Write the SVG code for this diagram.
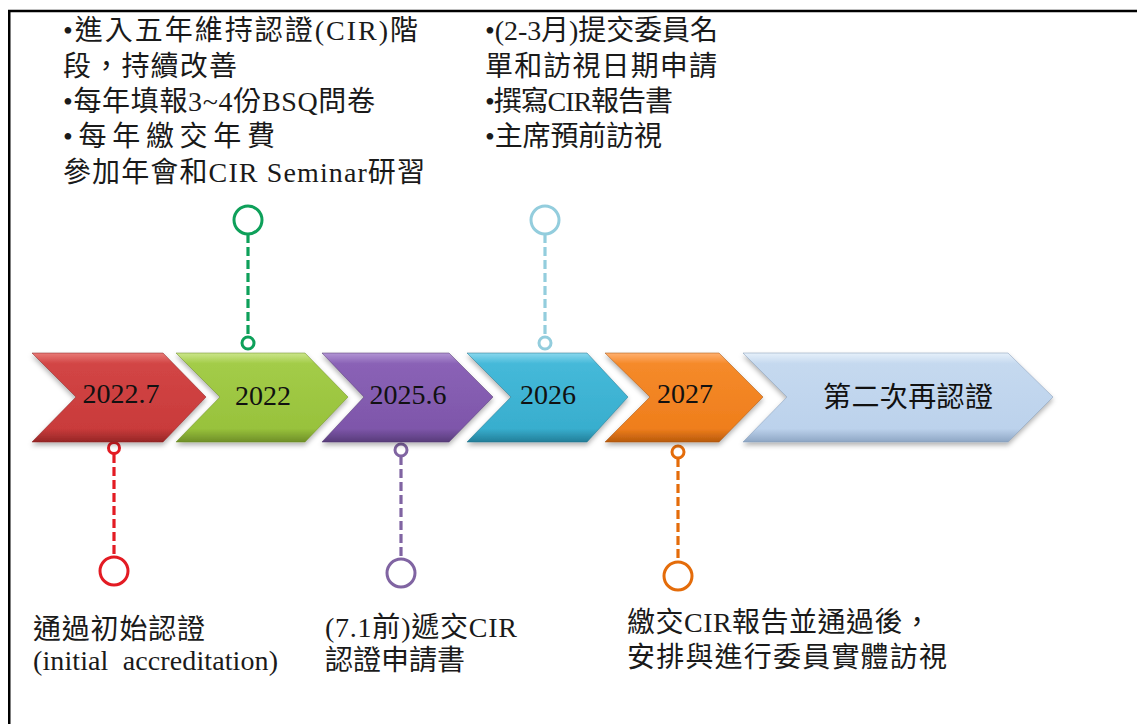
<svg xmlns="http://www.w3.org/2000/svg" width="1137" height="724" viewBox="0 0 1137 724">
<style>
text{font-family:"Liberation Serif","Noto Sans CJK TC",serif;fill:#1a1a1a;}
.t{font-size:28px;}
.lbl{font-size:28px;text-anchor:middle;fill:#111;}
.dash{fill:none;stroke-width:3.2;stroke-dasharray:9 4;}
.ring{fill:#fff;stroke-width:3;}
.edge{stroke-width:1;stroke-opacity:0.5;}
</style>
<defs>
<filter id="sh" x="-10%" y="-10%" width="120%" height="130%">
<feDropShadow dx="0" dy="3" stdDeviation="2.5" flood-color="#000" flood-opacity="0.3"/>
</filter>
<linearGradient id="gRed" x1="0" y1="0" x2="0" y2="1">
<stop offset="0" stop-color="#e87a76"/><stop offset="0.12" stop-color="#d24545"/><stop offset="0.85" stop-color="#c93b3b"/><stop offset="1" stop-color="#962626"/>
</linearGradient>
<linearGradient id="gGreen" x1="0" y1="0" x2="0" y2="1">
<stop offset="0" stop-color="#cbe58a"/><stop offset="0.12" stop-color="#a3cc48"/><stop offset="0.85" stop-color="#98c23c"/><stop offset="1" stop-color="#6f8f28"/>
</linearGradient>
<linearGradient id="gPurple" x1="0" y1="0" x2="0" y2="1">
<stop offset="0" stop-color="#b295d4"/><stop offset="0.12" stop-color="#8a62b6"/><stop offset="0.85" stop-color="#7e56aa"/><stop offset="1" stop-color="#583c7a"/>
</linearGradient>
<linearGradient id="gCyan" x1="0" y1="0" x2="0" y2="1">
<stop offset="0" stop-color="#8ad8ee"/><stop offset="0.12" stop-color="#45b9d9"/><stop offset="0.85" stop-color="#38aece"/><stop offset="1" stop-color="#237f99"/>
</linearGradient>
<linearGradient id="gOrange" x1="0" y1="0" x2="0" y2="1">
<stop offset="0" stop-color="#ffb070"/><stop offset="0.12" stop-color="#f58a2a"/><stop offset="0.85" stop-color="#ef7e1c"/><stop offset="1" stop-color="#b85a0c"/>
</linearGradient>
<linearGradient id="gBlue" x1="0" y1="0" x2="0" y2="1">
<stop offset="0" stop-color="#e6f0fa"/><stop offset="0.12" stop-color="#c5d9ef"/><stop offset="0.85" stop-color="#bcd2ec"/><stop offset="1" stop-color="#8ea6c4"/>
</linearGradient>
</defs>
<rect x="0" y="0" width="1137" height="724" fill="#fff"/>
<g id="frame" stroke="#000" stroke-width="2.5">
<line x1="8" y1="11" x2="1137" y2="11"/>
<line x1="9.25" y1="11" x2="9.25" y2="724"/>
</g>

<g id="connectors">
<g stroke="#e31b23"><line class="dash" x1="114" y1="454" x2="114" y2="556"/><circle class="ring" cx="114" cy="448" r="5.5"/><circle class="ring" cx="114" cy="571" r="14"/></g>
<g stroke="#0ea05a"><line class="dash" x1="248" y1="234" x2="248" y2="337"/><circle class="ring" cx="248" cy="220" r="14"/><circle class="ring" cx="248" cy="343" r="6"/></g>
<g stroke="#8064a2"><line class="dash" x1="401" y1="456" x2="401" y2="559"/><circle class="ring" cx="401" cy="450" r="6"/><circle class="ring" cx="401" cy="573" r="14"/></g>
<g stroke="#93cddd"><line class="dash" x1="545" y1="234" x2="545" y2="337"/><circle class="ring" cx="545" cy="220" r="14"/><circle class="ring" cx="545" cy="343" r="6"/></g>
<g stroke="#e46c0a"><line class="dash" x1="678" y1="458" x2="678" y2="562"/><circle class="ring" cx="678" cy="452" r="6"/><circle class="ring" cx="678" cy="576" r="14"/></g>
</g>

<g id="node-2022-7">
<polygon filter="url(#sh)" fill="url(#gRed)" stroke="#8a2020" class="edge" points="32,353 163,353 206,397 163,442 32,442 76,397"/>
<text class="lbl" x="121" y="403">2022.7</text>
</g>
<g id="node-2022">
<polygon filter="url(#sh)" fill="url(#gGreen)" stroke="#6a8a22" class="edge" points="176,353 305,353 348,397 305,442 176,442 220,397"/>
<text class="lbl" x="263" y="405">2022</text>
</g>
<g id="node-2025-6">
<polygon filter="url(#sh)" fill="url(#gPurple)" stroke="#50366e" class="edge" points="322,353 449,353 493,397 449,442 322,442 364,397"/>
<text class="lbl" x="408" y="404">2025.6</text>
</g>
<g id="node-2026">
<polygon filter="url(#sh)" fill="url(#gCyan)" stroke="#1f7189" class="edge" points="467,353 587,353 628,397 587,442 467,442 511,397"/>
<text class="lbl" x="548" y="404">2026</text>
</g>
<g id="node-2027">
<polygon filter="url(#sh)" fill="url(#gOrange)" stroke="#a4500a" class="edge" points="605,353 719,353 763,397 719,442 605,442 650,397"/>
<text class="lbl" x="685" y="403">2027</text>
</g>
<g id="node-recert">
<polygon filter="url(#sh)" fill="url(#gBlue)" stroke="#7f97b5" class="edge" points="743,353 1008,353 1053,397 1008,442 743,442 787,397"/>
<text class="lbl" x="908" y="407" textLength="170" lengthAdjust="spacing">第二次再認證</text>
</g>

<g id="note-2022">
<text class="t" x="63" y="40" textLength="355" lengthAdjust="spacing">•進入五年維持認證(CIR)階</text>
<text class="t" x="63" y="76" textLength="174" lengthAdjust="spacing">段，持續改善</text>
<text class="t" x="63" y="111" textLength="312" lengthAdjust="spacing">•每年填報3~4份BSQ問卷</text>
<text class="t" x="63" y="146" textLength="212" lengthAdjust="spacing">•每年繳交年費</text>
<text class="t" x="63" y="182" textLength="362" lengthAdjust="spacing">參加年會和CIR Seminar研習</text>
</g>
<g id="note-2026">
<text class="t" x="485" y="40" textLength="233" lengthAdjust="spacing">•(2-3月)提交委員名</text>
<text class="t" x="485" y="76" textLength="232" lengthAdjust="spacing">單和訪視日期申請</text>
<text class="t" x="485" y="111" textLength="188" lengthAdjust="spacing">•撰寫CIR報告書</text>
<text class="t" x="485" y="146" textLength="177" lengthAdjust="spacing">•主席預前訪視</text>
</g>
<g id="note-2022-7">
<text class="t" x="33" y="639" textLength="172" lengthAdjust="spacing">通過初始認證</text>
<text class="t" x="33" y="670" textLength="245" lengthAdjust="spacing" xml:space="preserve">(initial  accreditation)</text>
</g>
<g id="note-2025-6">
<text class="t" x="325" y="637" textLength="192" lengthAdjust="spacing">(7.1前)遞交CIR</text>
<text class="t" x="325" y="670" textLength="140" lengthAdjust="spacing">認證申請書</text>
</g>
<g id="note-2027">
<text class="t" x="627" y="632" textLength="304" lengthAdjust="spacing">繳交CIR報告並通過後，</text>
<text class="t" x="627" y="667" textLength="320" lengthAdjust="spacing">安排與進行委員實體訪視</text>
</g>
</svg>
